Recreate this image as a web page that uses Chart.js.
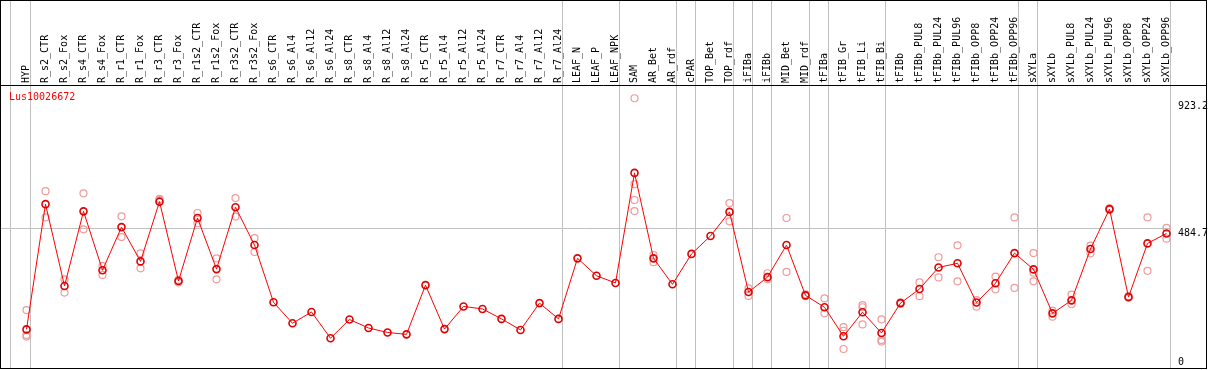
<!DOCTYPE html>
<html lang="en">
<head>
<meta charset="UTF-8" />
<title>Lus10026672</title>
<script src="https://cdn.jsdelivr.net/npm/chart.js"></script>
<style>
  body{margin:0;background:#fff;}
  canvas{display:block;}
</style>
</head>
<body>
<canvas id="chart" width="1209" height="370"></canvas>
<script>
const _=null;
const geneName='Lus10026672';

const categories=['HYP','R_s2_CTR','R_s2_Fox','R_s4_CTR','R_s4_Fox','R_r1_CTR','R_r1_Fox','R_r3_CTR','R_r3_Fox',
  'R_r1s2_CTR','R_r1s2_Fox','R_r3s2_CTR','R_r3s2_Fox','R_s6_CTR','R_s6_Al4','R_s6_Al12','R_s6_Al24',
  'R_s8_CTR','R_s8_Al4','R_s8_Al12','R_s8_Al24','R_r5_CTR','R_r5_Al4','R_r5_Al12','R_r5_Al24',
  'R_r7_CTR','R_r7_Al4','R_r7_Al12','R_r7_Al24','LEAF_N','LEAF_P','LEAF_NPK','SAM','AR_Bet','AR_rdf',
  'cPAR','TOP_Bet','TOP_rdf','iFIBa','iFIBb','MID_Bet','MID_rdf','tFIBa','tFIB_Gr','tFIB_Li','tFIB_Bi',
  'tFIBb','tFIBb_PUL8','tFIBb_PUL24','tFIBb_PUL96','tFIBb_OPP8','tFIBb_OPP24','tFIBb_OPP96',
  'sXYLa','sXYLb','sXYLb_PUL8','sXYLb_PUL24','sXYLb_PUL96','sXYLb_OPP8','sXYLb_OPP24','sXYLb_OPP96'];

// mean expression per sample
const meanValues=[118,571,275,545,332,488,364,580,293,521,336,560,423,216,140,181,86,
  154,123,107,100,278,119,201,192,156,116,213,156,375,312,286,684,375,281,
  391,456,543,253,307,423,241,198,93,180,105,213,264,342,357,215,285,394,
  335,176,223,409,553,235,429,465];

// single replicates (light circles)
const rep1=[188,618,299,610,348,527,393,590,297,539,375,593,448,_,_,_,_,
  _,_,_,_,_,_,_,_,_,_,_,_,_,_,_,954,387,_,
  _,_,575,266,321,521,245,230,126,206,154,216,288,379,422,224,309,523,
  394,186,244,421,556,238,523,485];
const rep2=[98,523,251,480,315,452,339,586,288,502,299,526,398,_,_,_,_,
  _,_,_,_,_,_,_,_,_,_,_,_,_,_,_,643,361,_,
  _,_,509,239,299,326,238,176,113,198,80,211,238,306,292,200,263,268,
  323,164,209,393,550,232,330,446];
const rep3=[92,_,_,_,_,_,_,_,_,_,_,_,_,_,_,_,_,
  _,_,_,_,_,_,_,_,_,_,_,_,_,_,_,586,_,_,
  _,_,_,_,_,_,_,_,47,136,74,_,_,_,_,_,_,_,
  292,_,_,_,_,_,_,_];
const rep4=[_,_,_,_,_,_,_,_,_,_,_,_,_,_,_,_,_,
  _,_,_,_,_,_,_,_,_,_,_,_,_,_,_,546,_,_,
  _,_,_,_,_,_,_,_,_,_,_,_,_,_,_,_,_,_,
  _,_,_,_,_,_,_,_];

const yTickLabels=[923.2,484.7,0];
const gridValue=484.7;
// vertical separators sit after these category indexes
const groupEnds=[-1,0,28,31,34,35,37,38,39,41,42,45,52,53,60];

const FONT='10px "DejaVu Sans Mono", "Liberation Mono", monospace';

const frame={
  id:'frame',
  beforeDraw(chart){
    const {ctx,width,height}=chart;
    ctx.save();
    ctx.fillStyle='#fff';
    ctx.fillRect(0,0,width,height);
    ctx.restore();
  },
  beforeDatasetsDraw(chart){
    const {ctx,scales:{x,y}}=chart;
    ctx.save();
    ctx.strokeStyle='#c0c0c0';
    ctx.lineWidth=1;
    groupEnds.forEach(i=>{
      const px=i<0 ? Math.floor(x.getPixelForValue(0)-16)+0.5 : Math.floor(x.getPixelForValue(i)+3.5)+0.5;
      ctx.beginPath();ctx.moveTo(px,0);ctx.lineTo(px,369);ctx.stroke();
    });
    const gy=Math.round(y.getPixelForValue(gridValue))+0.5;
    const right=Math.floor(x.getPixelForValue(categories.length-1)+3.5);
    ctx.beginPath();ctx.moveTo(1,gy);ctx.lineTo(right,gy);ctx.stroke();
    ctx.restore();
  },
  afterDraw(chart){
    const {ctx,scales:{x,y}}=chart;
    ctx.save();
    ctx.strokeStyle='#000';
    ctx.lineWidth=1;
    ctx.strokeRect(0.5,0.5,1206,368);
    ctx.beginPath();ctx.moveTo(0,85.5);ctx.lineTo(1207,85.5);ctx.stroke();

    ctx.font=FONT;
    ctx.fillStyle='#000';
    ctx.textAlign='left';
    ctx.textBaseline='middle';
    categories.forEach((c,i)=>{
      const px=x.getPixelForValue(i);
      ctx.save();
      ctx.translate(px,83);
      ctx.rotate(-Math.PI/2);
      ctx.fillText(c,0,0);
      ctx.restore();
    });

    const right=Math.floor(x.getPixelForValue(categories.length-1)+3.5);
    yTickLabels.forEach(v=>{
      let py=y.getPixelForValue(v);
      if(v===gridValue) py+=5;
      ctx.fillText(String(v),right+8,py);
    });

    ctx.fillStyle='#ff0000';
    ctx.fillText(geneName,9,97);
    ctx.restore();
  }
};

function repSet(data){
  return {
    data,
    showLine:false,
    clip:false,
    pointRadius:3.5,
    pointBorderWidth:1.2,
    pointBorderColor:'#f09a9a',
    pointBackgroundColor:'rgba(0,0,0,0)',
    order:1
  };
}

new Chart(document.getElementById('chart'),{
  type:'line',
  data:{
    labels:categories,
    datasets:[
      {
        data:meanValues,
        clip:false,
        borderColor:'#ff0000',
        borderWidth:1,
        tension:0,
        pointRadius:3.5,
        pointBorderWidth:1.6,
        pointBorderColor:'#e00000',
        pointBackgroundColor:'rgba(0,0,0,0)',
        order:0
      },
      repSet(rep1),repSet(rep2),repSet(rep3),repSet(rep4)
    ]
  },
  options:{
    responsive:false,
    animation:false,
    events:[],
    layout:{autoPadding:false,padding:{left:17,right:33,top:86,bottom:1}},
    plugins:{legend:{display:false},tooltip:{enabled:false}},
    scales:{
      x:{type:'category',offset:true,display:false},
      y:{min:-25.3,max:998.4,display:false}
    }
  },
  plugins:[frame]
});
</script>
</body>
</html>
